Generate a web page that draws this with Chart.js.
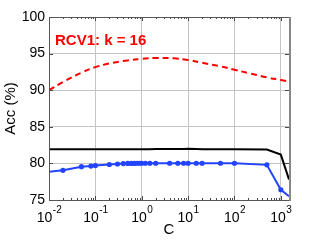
<!DOCTYPE html>
<html>
<head>
<meta charset="utf-8">
<script src="https://cdn.jsdelivr.net/npm/chart.js@4"></script>
<style>
  html, body { margin: 0; padding: 0; background: #fff; }
  #wrap { width: 319px; height: 240px; }
</style>
</head>
<body>
<div id="wrap"><canvas id="accChart" width="319" height="240"></canvas></div>
<script>
// values of C (log axis) and accuracy (%)
var cValues = [0.01, 0.02, 0.05, 0.08, 0.1, 0.2, 0.3, 0.4, 0.5, 0.6, 0.7, 0.8, 0.9, 1, 1.2, 1.5, 2, 4, 6, 8, 10, 15, 20, 50, 100, 500, 1000, 1500];
var blueAcc = [78.85, 79.05, 79.55, 79.63, 79.7, 79.85, 79.92, 79.97, 80.0, 80.0, 80.0, 80.02, 80.02, 80.02, 80.02, 80.02, 80.02, 80.02, 80.02, 80.02, 80.02, 80.02, 80.02, 80.02, 80.02, 79.8, 76.4, 75.5];
var blackAcc = [81.95, 81.95, 81.95, 81.95, 81.95, 81.95, 81.95, 81.95, 81.95, 81.95, 81.95, 81.95, 81.95, 81.95, 81.95, 81.95, 81.97, 81.97, 81.97, 81.97, 82.0, 81.97, 81.95, 81.95, 81.95, 81.9, 81.2, 77.8];

var redC = [0.01, 0.02, 0.05, 0.1, 0.2, 0.5, 1, 2, 5, 10, 20, 50, 100, 200, 500, 1000, 1500];
var redAcc = [90.0, 91.1, 92.4, 93.15, 93.65, 94.07, 94.27, 94.4, 94.35, 94.12, 93.75, 93.25, 92.8, 92.35, 91.75, 91.4, 91.2];

var xTicks = [0.01, 0.1, 1, 10, 100, 1000];
var xTickExp = ["-2", "-1", "0", "1", "2", "3"];
var yTicks = [75, 80, 85, 90, 95, 100];
var titleText = "RCV1: k = 16";

var FONT = "'Liberation Sans', Arial, Helvetica, sans-serif";

function pts(xs, ys) {
  return xs.map(function (x, i) { return { x: x, y: ys[i] }; });
}

// marker only on the inner points of the blue series
var blueRadius = cValues.map(function (c, i) {
  return (i === 0 || i === cValues.length - 1) ? 0 : 2.6;
});

// MATLAB-like axes box, inward ticks, 10^n labels and the inset title
var matlabAxes = {
  id: "matlabAxes",
  afterDraw: function (chart) {
    var ctx = chart.ctx;
    var a = chart.chartArea;
    var xs = chart.scales.x, ys = chart.scales.y;
    ctx.save();
    ctx.strokeStyle = "#4a4a4a";
    ctx.lineWidth = 1;

    ctx.beginPath();
    // y ticks, both sides
    yTicks.forEach(function (v) {
      var py = Math.round(ys.getPixelForValue(v)) + 0.5;
      ctx.moveTo(a.left, py); ctx.lineTo(a.left + 4, py);
      ctx.moveTo(a.right, py); ctx.lineTo(a.right - 4, py);
    });
    // x major + minor ticks, top and bottom
    for (var e = -2; e <= 3; e++) {
      for (var m = 1; m <= 9; m++) {
        var v = m * Math.pow(10, e);
        if (v > 1500) break;
        var px = Math.round(xs.getPixelForValue(v)) + 0.5;
        var len = m === 1 ? 4 : 2;
        ctx.moveTo(px, a.bottom); ctx.lineTo(px, a.bottom - len);
        ctx.moveTo(px, a.top); ctx.lineTo(px, a.top + len);
      }
    }
    ctx.stroke();

    // box
    ctx.strokeStyle = "#555";
    ctx.strokeRect(Math.round(a.left) + 0.5, Math.round(a.top) + 0.5,
      Math.round(a.right - a.left), Math.round(a.bottom - a.top));
    ctx.lineWidth = 2;
    ctx.strokeStyle = "#888";
    ctx.beginPath();
    ctx.moveTo(Math.round(a.right) + 1, a.top);
    ctx.lineTo(Math.round(a.right) + 1, a.bottom + 1);
    ctx.stroke();

    // x tick labels as 10 with a raised exponent
    ctx.fillStyle = "#000";
    ctx.textBaseline = "alphabetic";
    ctx.textAlign = "left";
    xTicks.forEach(function (v, i) {
      var px = xs.getPixelForValue(v);
      ctx.font = "14px " + FONT;
      var w1 = ctx.measureText("10").width;
      ctx.font = "10px " + FONT;
      var w2 = ctx.measureText(xTickExp[i]).width;
      var x0 = px - (w1 + w2) / 2;
      ctx.font = "14px " + FONT;
      ctx.fillText("10", x0, a.bottom + 22);
      ctx.font = "10px " + FONT;
      ctx.fillText(xTickExp[i], x0 + w1 + 0.5, a.bottom + 13);
    });

    // inset title
    ctx.fillStyle = "#ff0000";
    ctx.font = "bold 15px " + FONT;
    ctx.fillText(titleText, 55, 45);
    ctx.restore();
  }
};

var ctx = document.getElementById("accChart");
new Chart(ctx, {
  type: "line",
  data: {
    datasets: [
      {
        label: "black",
        data: pts(cValues, blackAcc),
        borderColor: "#000",
        borderWidth: 2,
        pointRadius: 0,
        tension: 0,
      },
      {
        label: "blue",
        data: pts(cValues, blueAcc),
        borderColor: "#2244ff",
        backgroundColor: "#2244ff",
        borderWidth: 2,
        pointRadius: blueRadius,
        pointBorderWidth: 0,
        tension: 0,
      },
      {
        label: "red",
        data: pts(redC, redAcc),
        borderColor: "#ff0000",
        borderWidth: 2,
        borderDash: [6, 4],
        pointRadius: 0,
        tension: 0.4,
      },
    ],
  },
  options: {
    responsive: false,
    animation: false,
    devicePixelRatio: 1,
    layout: { padding: { left: 0, top: 17, right: 30, bottom: 0 } },
    plugins: {
      legend: { display: false },
      tooltip: { enabled: false },
    },
    scales: {
      x: {
        type: "logarithmic",
        min: 0.01,
        max: 1500,
        afterBuildTicks: function (scale) {
          scale.ticks = xTicks.map(function (v) { return { value: v }; });
        },
        afterFit: function (scale) { scale.height = 40; },
        ticks: { display: false },
        grid: { color: "#c4c4c4", borderDash: [1, 2], drawTicks: false, lineWidth: 1 },
        border: { display: false },
        title: {
          display: true,
          text: "C",
          color: "#000",
          font: { family: FONT, size: 15 },
          padding: { top: 0, bottom: 1 },
        },
      },
      y: {
        min: 75,
        max: 100,
        afterBuildTicks: function (scale) {
          scale.ticks = yTicks.map(function (v) { return { value: v }; });
        },
        afterFit: function (scale) { scale.width = 49; },
        ticks: {
          color: "#000",
          padding: 4,
          font: { family: FONT, size: 14 },
        },
        grid: { color: "#c4c4c4", borderDash: [1, 2], drawTicks: false, lineWidth: 1 },
        border: { display: false },
        title: {
          display: true,
          text: "Acc (%)",
          color: "#000",
          font: { family: FONT, size: 15 },
          padding: { top: 2, bottom: 0 },
        },
      },
    },
  },
  plugins: [matlabAxes],
});
</script>
</body>
</html>
